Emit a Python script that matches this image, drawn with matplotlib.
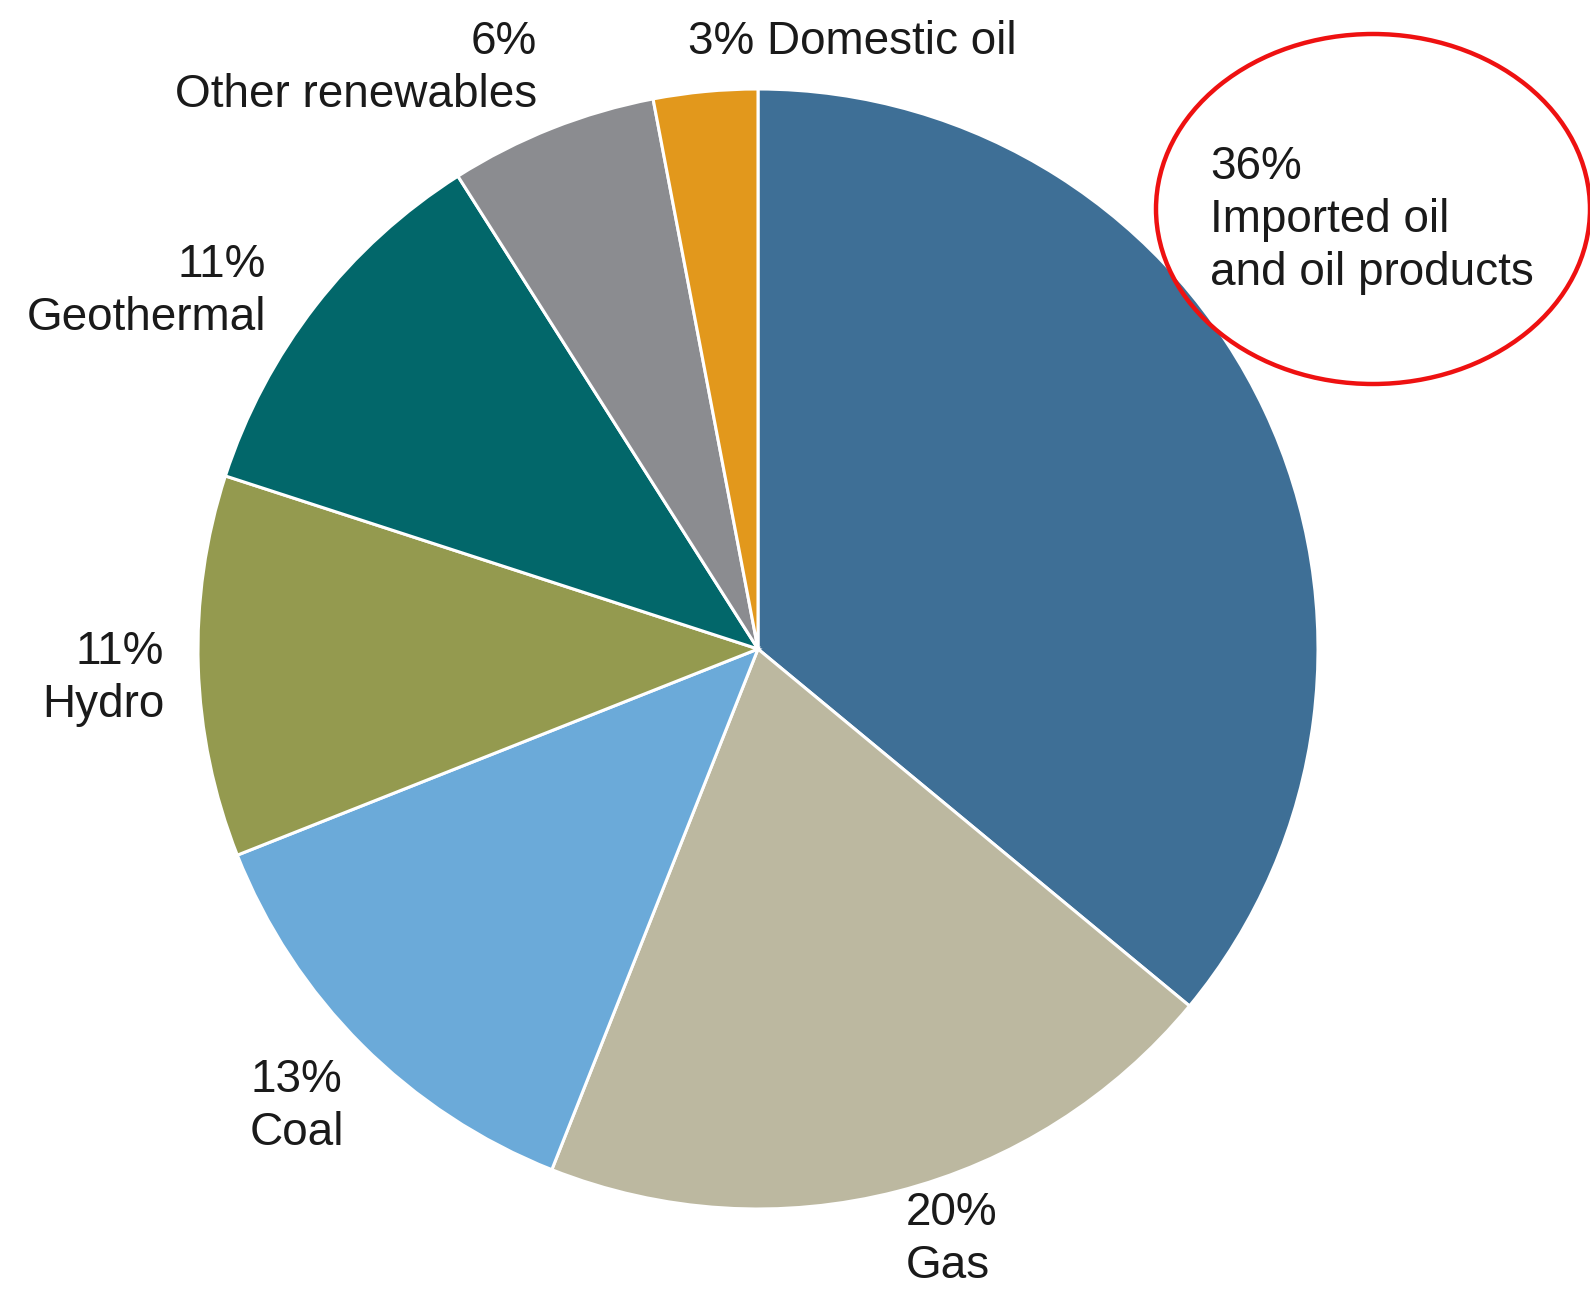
import matplotlib
matplotlib.use("Agg")
import matplotlib.pyplot as plt
from matplotlib.patches import Ellipse

# Data
sources = ["Imported oil\nand oil products", "Gas", "Coal", "Hydro",
           "Geothermal", "Other renewables", "Domestic oil"]
shares = [36, 20, 13, 11, 11, 6, 3]
colors = ["#3e6f96", "#bcb8a0", "#6baad9", "#949a4f",
          "#02676a", "#8b8c90", "#e2981c"]

W, H = 1590, 1294
plt.rcParams['font.family'] = ['Liberation Sans', 'DejaVu Sans']

fig = plt.figure(figsize=(W / 100, H / 100), dpi=100)
ax = fig.add_axes([0, 0, 1, 1])

# pie in pixel-like coordinates (y measured from the bottom)
cx, cy, r = 758, H - 649, 560
ax.pie(shares, colors=colors, startangle=90, counterclock=False,
       center=(cx, cy), radius=r,
       wedgeprops=dict(edgecolor="white", linewidth=2.2))

ax.set_xlim(0, W)
ax.set_ylim(0, H)
ax.set_aspect("equal")
ax.axis("off")

# labels: (text, x, y of first line, alignment)
labels = [
    ("36%\nImported oil\nand oil products", 1210, 164, "left"),
    ("20%\nGas", 906, 1210, "left"),
    ("13%\nCoal", 250, 1077, "left"),
    ("11%\nHydro", 164, 649, "right"),
    ("11%\nGeothermal", 266, 262, "right"),
    ("6%\nOther renewables", 537, 39, "right"),
    ("3% Domestic oil", 688, 39, "left"),
]
fs = 33
for txt, x, y, ha in labels:
    ax.text(x, H - y + 19, txt, ha=ha, va="top", fontsize=fs,
            color="#1a1a1a", linespacing=1.27)

# red highlight ring around the imported oil label
ring = Ellipse((1373, H - 209), 434, 350, fill=False,
               edgecolor="#ee1111", linewidth=3.2)
ax.add_patch(ring)

fig.savefig("out.png", dpi=100)
